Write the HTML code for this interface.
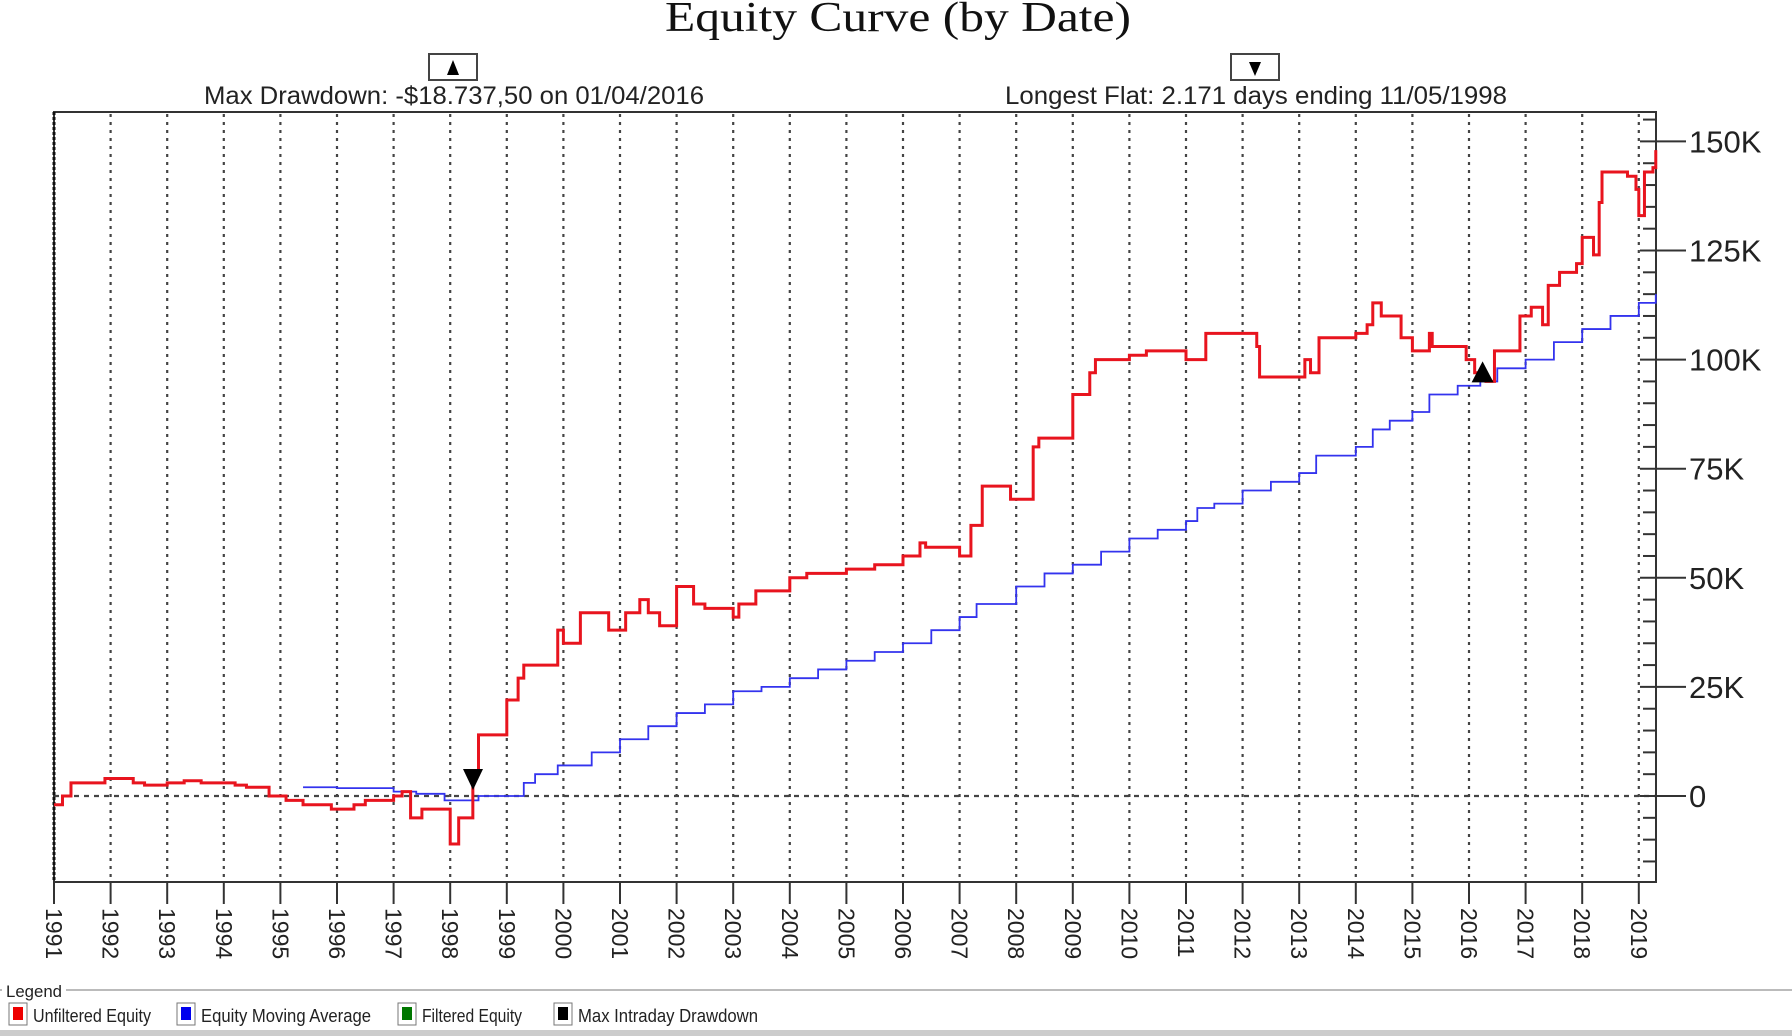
<!DOCTYPE html>
<html><head><meta charset="utf-8"><style>
html,body{margin:0;padding:0;background:#fff;width:1792px;height:1036px;overflow:hidden}
svg{display:block}
text{font-family:"Liberation Sans",sans-serif;fill:#222}
</style></head><body>
<svg id="s" width="1792" height="1036" xmlns="http://www.w3.org/2000/svg">
<text x="665" y="31" textLength="466" lengthAdjust="spacingAndGlyphs" style="font-family:'Liberation Serif',serif;font-size:42px;fill:#111">Equity Curve (by Date)</text>
<rect x="429" y="54" width="48" height="26" fill="#fff" stroke="#444" stroke-width="2"/>
<polygon points="453,60 447,75 459,75" fill="#000"/>
<rect x="1231" y="54" width="48" height="26" fill="#fff" stroke="#444" stroke-width="2"/>
<polygon points="1249,62 1261,62 1255,76" fill="#000"/>
<text x="204" y="104" font-size="25" textLength="500" lengthAdjust="spacingAndGlyphs">Max Drawdown: -$18.737,50 on 01/04/2016</text>
<text x="1005" y="104" font-size="25" textLength="502" lengthAdjust="spacingAndGlyphs">Longest Flat: 2.171 days ending 11/05/1998</text>
<g id="grid"></g>
<rect x="54" y="112" width="1602" height="770" fill="none" stroke="#333" stroke-width="2"/>
<line x1="54" y1="112" x2="54" y2="882" stroke="#111" stroke-width="3" stroke-dasharray="3,2"/>
<g id="ser"></g>
<line x1="0" y1="990" x2="1792" y2="990" stroke="#bbb" stroke-width="2"/>
<rect x="2" y="981" width="64" height="20" fill="#fff"/>
<text x="6" y="997" font-size="17" textLength="56" lengthAdjust="spacingAndGlyphs">Legend</text>
<rect x="0" y="1030" width="1792" height="6" fill="#ccc"/>
<g id="leg"></g>
</svg>
<script>
var s=document.getElementById('s'),NS='http://www.w3.org/2000/svg';
function el(p,t,a,txt){var e=document.createElementNS(NS,t);for(var k in a)e.setAttribute(k,a[k]);if(txt)e.textContent=txt;document.getElementById(p).appendChild(e);return e;}
function X(y){return 54+(y-1991)*56.6}
function Y(v){return 796-v*4.364}
for(var yr=1991;yr<=2019;yr++){var x=X(yr);
 if(yr>1991)el('grid','line',{x1:x,y1:114,x2:x,y2:880,stroke:'#444','stroke-width':2.2,'stroke-dasharray':'3,5'});
 el('grid','line',{x1:x,y1:882,x2:x,y2:904,stroke:'#333','stroke-width':2});
 el('grid','text',{x:0,y:0,'font-size':23,transform:'translate('+(x-8)+',908) rotate(90)'},String(yr));}
el('grid','line',{x1:54,y1:796,x2:1656,y2:796,stroke:'#444','stroke-width':2.2,'stroke-dasharray':'5,5'});
for(var v=-20;v<=155;v+=5){var y=Y(v);if(y<114||y>880)continue;
 if(v%25==0){el('grid','line',{x1:1640,y1:y,x2:1686,y2:y,stroke:'#333','stroke-width':2});
  el('grid','text',{x:1689,y:y+11,'font-size':31},v==0?'0':(v+'K'));}
 else el('grid','line',{x1:1643,y1:y,x2:1656,y2:y,stroke:'#333','stroke-width':2});}
function step(pts){var d='M'+X(pts[0])+','+Y(pts[1]);for(var i=2;i<pts.length;i+=2){d+=' H'+X(pts[i])+' V'+Y(pts[i+1]);}return d;}
var red=[1991,-2,1991.15,0,1991.3,3,1991.9,4,1992.4,3,1992.6,2.5,1993,3,1993.3,3.5,1993.6,3,1994.2,2.5,1994.4,2,1994.8,0,1995.1,-1,1995.4,-2,1995.9,-3,1996.3,-2,1996.5,-1,1997,0,1997.15,1,1997.3,-5,1997.5,-3,1997.9,-3,1998,-11,1998.15,-5,1998.4,5,1998.5,14,1999,22,1999.2,27,1999.3,30,1999.5,30,1999.9,38,2000,35,2000.3,42,2000.8,38,2001.1,42,2001.35,45,2001.5,42,2001.7,39,2002,48,2002.3,44,2002.5,43,2003,41,2003.1,44,2003.4,47,2004,50,2004.3,51,2005,52,2005.5,53,2006,55,2006.3,58,2006.4,57,2007,55,2007.2,62,2007.4,71,2007.9,68,2008.3,80,2008.4,82,2009,92,2009.3,97,2009.4,100,2010,101,2010.3,102,2011,100,2011.35,106,2011.9,106,2012.25,103,2012.3,96,2013,96,2013.1,100,2013.2,97,2013.35,105,2014,106,2014.2,108,2014.3,113,2014.45,110,2014.8,105,2015,102,2015.3,106,2015.35,103,2015.95,100,2016.1,97,2016.3,95,2016.45,102,2016.8,102,2016.9,110,2017.1,112,2017.3,108,2017.4,117,2017.6,120,2017.9,122,2018,128,2018.2,124,2018.3,136,2018.35,143,2018.8,142,2018.95,139,2019.0,133,2019.1,143,2019.25,144,2019.3,148];
var blue=[1995.4,2,1996,1.8,1997,1,1997.4,0.5,1997.9,-1,1998.3,-1,1998.5,0,1999,0,1999.3,3,1999.5,5,1999.9,7,2000.5,10,2001,13,2001.5,16,2002,19,2002.5,21,2003,24,2003.5,25,2004,27,2004.5,29,2005,31,2005.5,33,2006,35,2006.5,38,2007,41,2007.3,44,2008,48,2008.5,51,2009,53,2009.5,56,2010,59,2010.5,61,2011,63,2011.2,66,2011.5,67,2012,70,2012.5,72,2013,74,2013.3,78,2014,80,2014.3,84,2014.6,86,2015,88,2015.3,92,2015.8,94,2016.2,95,2016.5,98,2017,100,2017.5,104,2018,107,2018.5,110,2019,113,2019.3,115];
el('ser','path',{d:step(blue),fill:'none',stroke:'#3333ee','stroke-width':1.8});
el('ser','path',{d:step(red),fill:'none',stroke:'#e8141e','stroke-width':3});
el('ser','polygon',{points:'463,769 483,769 473,790',fill:'#000'});
var ux=X(2016.24),uy=Y(95);
el('ser','polygon',{points:ux+','+(uy-20)+' '+(ux-11)+','+(uy+1)+' '+(ux+11)+','+(uy+1),fill:'#000'});
var L=[['#ee0000','Unfiltered Equity',8,148],['#0000ee','Equity Moving Average',176,200],['#007700','Filtered Equity',397,130],['#000','Max Intraday Drawdown',553,210]];
L.forEach(function(l){el('leg','rect',{x:l[2]+1,y:1003,width:18,height:22,fill:'#fff',stroke:'#777','stroke-width':1});
 el('leg','rect',{x:l[2]+5,y:1007,width:10,height:13,fill:l[0]});
 el('leg','text',{x:l[2]+25,y:1022,'font-size':18,textLength:l[3]-30,lengthAdjust:'spacingAndGlyphs'},l[1]);});
</script>
</body></html>
